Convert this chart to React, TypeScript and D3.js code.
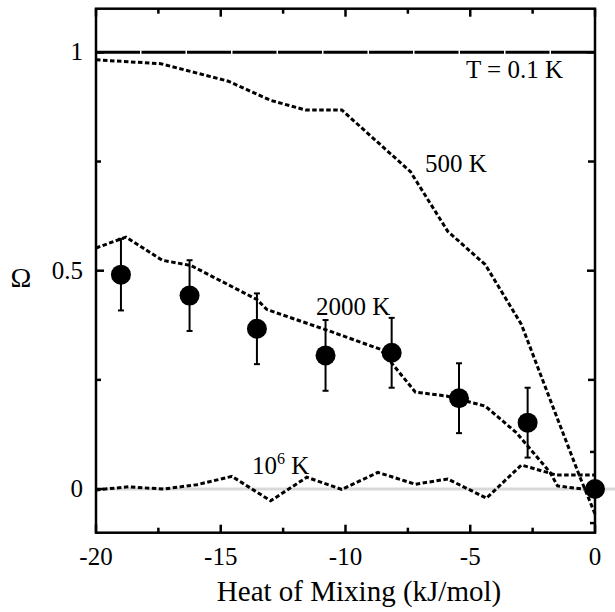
import React from "react";
import * as d3 from "d3";

// Data
const heatX = [-19, -16.25, -13.55, -10.8, -8.15, -5.45, -2.7, 0];
const omegaMeasured = [0.491, 0.443, 0.367, 0.306, 0.312, 0.208, 0.152, 0.0];
const omegaErr = [0.082, 0.081, 0.081, 0.081, 0.08, 0.08, 0.08, 0.0];

const lowTX = [-20, 0];
const lowTY = [1, 1];

const t500X = [-20, -17.4, -14.7, -13.0, -11.6, -10.15, -7.4, -5.9, -4.4, -2.95, -1.8, -0.6, 0];
const t500Y = [0.983, 0.974, 0.934, 0.89, 0.868, 0.868, 0.727, 0.59, 0.514, 0.377, 0.205, 0.027, -0.057];

const t2000X = [-20, -18.8, -17.35, -16.2, -13.55, -13.15, -10.8, -8.6, -7.2, -5.95, -4.4, -3.15, -1.8, -1.5, -0.5, 0];
const t2000Y = [0.552, 0.577, 0.524, 0.512, 0.434, 0.411, 0.365, 0.32, 0.222, 0.213, 0.19, 0.129, 0.038, 0.007, 0.0, 0.0];

const t1e6X = [-20, -18.7, -17.3, -15.95, -14.55, -13.0, -11.55, -10.15, -8.7, -7.2, -5.9, -4.35, -2.95, -1.55, 0];
const t1e6Y = [-0.002, 0.005, 0.0, 0.01, 0.029, -0.027, 0.027, -0.001, 0.038, 0.011, 0.023, -0.021, 0.055, 0.032, 0.032];

const xMajorTicks = [-20, -15, -10, -5, 0];
const xMinorTicks = [-17.5, -12.5, -7.5, -2.5];
const yLabelTicks = [0, 0.5, 1];
const yMinorTicks = [0.25, 0.75];
const rightExtraTicks = [0.085, -0.078];

const W = 615;
const H = 612;
const L = 96, R = 595, T = 8.7, B = 532.7;
const SERIF = "Liberation Serif";

export default function App() {
  const x = d3.scaleLinear().domain([-20, 0]).range([L, R]);
  const y = d3.scaleLinear().domain([-0.1, 1.1]).range([B, T]);
  const line = d3
    .line<[number, number]>()
    .x((d) => x(d[0]))
    .y((d) => y(d[1]));
  const zip = (a: number[], b: number[]) => a.map((v, i) => [v, b[i]] as [number, number]);

  const dash = "4.5,2.5";

  return (
    <div style={{ position: "absolute", left: 0, top: 0, fontFamily: SERIF }}>
      <svg width={W} height={H} style={{ display: "block" }}>
        <rect x={0} y={0} width={W} height={H} fill="#fff" />
        <line x1={L} x2={W} y1={y(0)} y2={y(0)} stroke="#d9d9d9" strokeWidth={3} />

        <path d={line(zip(t1e6X, t1e6Y)) || ""} fill="none" stroke="#000" strokeWidth={3} strokeDasharray={dash} />
        <path d={line(zip(t2000X, t2000Y)) || ""} fill="none" stroke="#000" strokeWidth={3} strokeDasharray={dash} />
        <path d={line(zip(t500X, t500Y)) || ""} fill="none" stroke="#000" strokeWidth={3} strokeDasharray={dash} />
        <path d={line(zip(lowTX, lowTY)) || ""} fill="none" stroke="#000" strokeWidth={3} strokeDasharray="44,1.5" />

        {heatX.map((hx, i) => {
          const e = omegaErr[i];
          const cx = x(hx);
          return (
            <g key={i}>
              {e > 0 && (
                <g stroke="#000" strokeWidth={2}>
                  <line x1={cx} x2={cx} y1={y(omegaMeasured[i] + e)} y2={y(omegaMeasured[i] - e)} />
                  <line x1={cx - 3} x2={cx + 3} y1={y(omegaMeasured[i] + e)} y2={y(omegaMeasured[i] + e)} />
                  <line x1={cx - 3} x2={cx + 3} y1={y(omegaMeasured[i] - e)} y2={y(omegaMeasured[i] - e)} />
                </g>
              )}
              <circle cx={cx} cy={y(omegaMeasured[i])} r={10} fill="#000" />
            </g>
          );
        })}

        <rect x={L} y={T} width={R - L} height={B - T} fill="none" stroke="#000" strokeWidth={2.5} />

        {xMajorTicks.map((t) => (
          <g key={"xm" + t} stroke="#000" strokeWidth={2.5}>
            <line x1={x(t)} x2={x(t)} y1={B} y2={B - 8} />
            <line x1={x(t)} x2={x(t)} y1={T} y2={T + 8} />
          </g>
        ))}
        {xMinorTicks.map((t) => (
          <g key={"xn" + t} stroke="#000" strokeWidth={2.5}>
            <line x1={x(t)} x2={x(t)} y1={B} y2={B - 5} />
            <line x1={x(t)} x2={x(t)} y1={T} y2={T + 5} />
          </g>
        ))}
        {yLabelTicks.map((t) => (
          <g key={"ym" + t} stroke="#000" strokeWidth={2.5}>
            <line x1={L} x2={L + 8} y1={y(t)} y2={y(t)} />
            <line x1={R} x2={R - 8} y1={y(t)} y2={y(t)} />
          </g>
        ))}
        {yMinorTicks.map((t) => (
          <g key={"yn" + t} stroke="#000" strokeWidth={2.5}>
            <line x1={L} x2={L + 5} y1={y(t)} y2={y(t)} />
            <line x1={R} x2={R - 7} y1={y(t)} y2={y(t)} />
          </g>
        ))}
        {rightExtraTicks.map((t) => (
          <line key={"yr" + t} x1={R} x2={R - 5} y1={y(t)} y2={y(t)} stroke="#000" strokeWidth={2.5} />
        ))}

        {xMajorTicks.map((t) => (
          <text key={"xl" + t} x={x(t)} y={565} fontSize={25} textAnchor="middle" fill="#000" fontFamily={SERIF}>
            {t}
          </text>
        ))}
        {yLabelTicks.map((t) => (
          <text key={"yl" + t} x={83} y={y(t) + 8} fontSize={25} textAnchor="end" fill="#000" fontFamily={SERIF}>
            {t}
          </text>
        ))}

        <text x={359} y={601} fontSize={29} textAnchor="middle" fill="#000" fontFamily={SERIF}>
          Heat of Mixing (kJ/mol)
        </text>
        <text x={21} y={287} fontSize={28} textAnchor="middle" fill="#000" fontFamily={SERIF}>
          Ω
        </text>

        <text x={466} y={78} fontSize={25} fill="#000" fontFamily={SERIF}>T = 0.1 K</text>
        <text x={425} y={172} fontSize={25} fill="#000" fontFamily={SERIF}>500 K</text>
        <text x={316} y={315} fontSize={25} fill="#000" fontFamily={SERIF}>2000 K</text>
        <text x={252} y={474} fontSize={25} fill="#000" fontFamily={SERIF}>
          10
          <tspan dy={-10} fontSize={16}>6</tspan>
          <tspan dy={10} fontSize={25}> K</tspan>
        </text>
      </svg>
    </div>
  );
}
